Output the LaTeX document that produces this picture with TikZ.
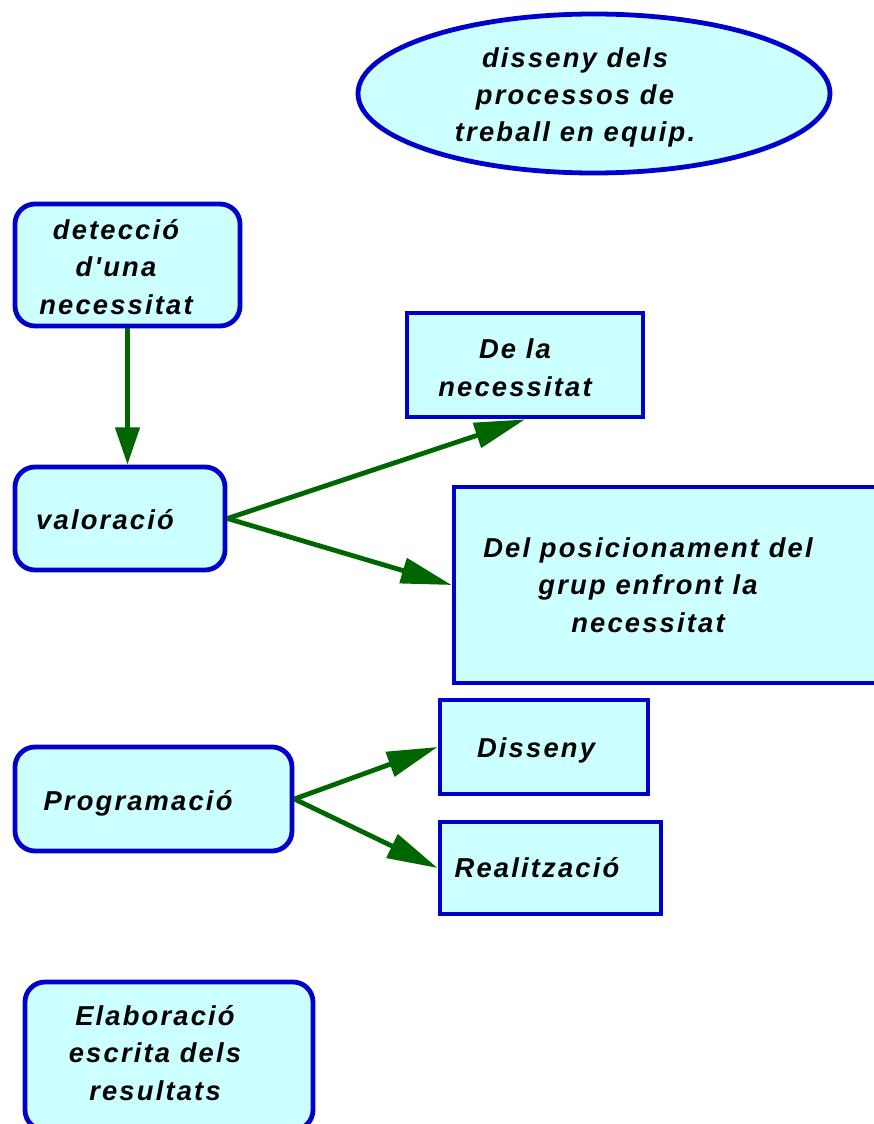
\documentclass[tikz,border=0pt]{standalone}
\usepackage{fontspec}
\newfontfamily\labfont[LetterSpace=8]{Liberation Sans}
\usetikzlibrary{arrows.meta,shapes.geometric}
\definecolor{boxblue}{HTML}{0000CC}
\definecolor{boxfill}{HTML}{CCFFFF}
\definecolor{arrgreen}{HTML}{006600}
\tikzset{
  rbox/.style={draw=boxblue, fill=boxfill, line width=3.6pt, rounded corners=15pt, inner sep=0pt},
  sbox/.style={draw=boxblue, fill=boxfill, line width=3.6pt, inner sep=0pt},
  ebox/.style={ellipse, draw=boxblue, fill=boxfill, line width=3.6pt, inner sep=0pt},
  lab/.style={font=\labfont\bfseries\itshape\fontsize{20.5}{28}\selectfont, align=center, anchor=base, inner sep=0pt},
  conn/.style={draw=arrgreen, line width=3.6pt, -{Triangle[length=38pt,width=19pt]}, fill=arrgreen},
  vconn/.style={draw=arrgreen, line width=3.6pt, -{Triangle[length=28pt,width=18pt]}, fill=arrgreen}
}
\begin{document}
\begin{tikzpicture}[x=0.75pt,y=-0.75pt]
\useasboundingbox (0,0) rectangle (874,1124);
% boxes
\node[ebox, minimum width=472*0.75pt, minimum height=159*0.75pt] (ell) at (594,93.5) {};
\node[rbox, minimum width=225*0.75pt, minimum height=122*0.75pt] (det) at (127.5,265) {};
\node[rbox, minimum width=210*0.75pt, minimum height=103*0.75pt] (val) at (120,518.5) {};
\node[sbox, minimum width=236*0.75pt, minimum height=104*0.75pt] (dela) at (525,365) {};
\node[sbox, minimum width=426*0.75pt, minimum height=196*0.75pt] (pos) at (667,585) {};
\node[rbox, minimum width=277*0.75pt, minimum height=104*0.75pt] (prog) at (153.5,799) {};
\node[sbox, minimum width=208*0.75pt, minimum height=94*0.75pt] (dis) at (544,747) {};
\node[sbox, minimum width=221*0.75pt, minimum height=92*0.75pt] (real) at (550.5,868) {};
\node[rbox, minimum width=288*0.75pt, minimum height=148*0.75pt] (elab) at (169,1056) {};
% texts (anchor base = last line)
\node[lab] (tell) at (575,142) {disseny dels\\processos de\\treball en equip.};
\node[lab] (tdet) at (116,314) {detecció\\d'una\\necessitat};
\node[lab] (tval) at (105,529) {valoració};
\node[lab] (tdela) at (515,396) {De la\\necessitat};
\node[lab] (tpos) at (648,632) {Del posicionament del\\grup enfront la\\necessitat};
\node[lab] (tprog) at (138,810) {Programació};
\node[lab] (tdis) at (536,757) {Disseny};
\node[lab] (treal) at (537,877) {Realització};
\node[lab] (telab) at (155,1100) {Elaboració\\escrita dels\\resultats};
% connectors
\draw[vconn] (det.south) -- (det.south |- val.north);
\draw[conn] (val.east) -- (dela.south);
\draw[conn] (val.east) -- (pos.west);
\draw[conn] (prog.east) -- (dis.west);
\draw[conn] (prog.east) -- (real.west);
\end{tikzpicture}
\end{document}
